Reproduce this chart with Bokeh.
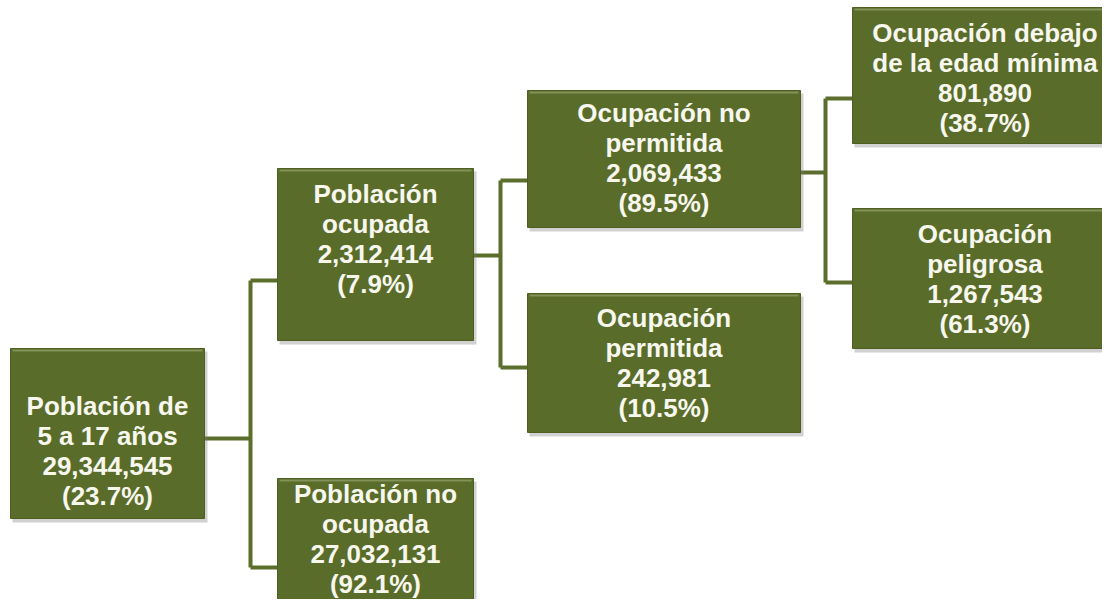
from bokeh.plotting import figure
from bokeh.models import ColumnDataSource, Range1d
from bokeh.core.properties import value
from bokeh.embed import file_html
from bokeh.resources import INLINE

# ---- data ----
labels = ["Población de\n5 a 17 años", "Población\nocupada", "Población no\nocupada",
          "Ocupación no\npermitida", "Ocupación\npermitida",
          "Ocupación debajo\nde la edad mínima", "Ocupación\npeligrosa"]
counts = [29344545, 2312414, 27032131, 2069433, 242981, 801890, 1267543]
percents = [23.7, 7.9, 92.1, 89.5, 10.5, 38.7, 61.3]
parents = [None, 0, 0, 1, 1, 3, 3]

# ---- layout (page geometry, pixels) ----
box_left = [10, 277, 277, 527, 527, 852, 852]
box_right = [204, 473, 473, 800, 800, 1117, 1117]
box_top = [348, 168, 478, 90, 293, 7, 208]
box_bottom = [518, 340, 632, 227, 432, 143, 348]
text_y = [450, 238, 538, 157, 362, 77, 278]
out_y = {0: 438, 1: 255, 3: 172}
in_y = [None, 280, 567, 180, 367, 98, 282]
trunk_x = {0: 250, 1: 500, 3: 825}

BOX = "#5a6c2a"
LINE = "#5b6e2c"
TXT = "#f7f7ee"

p = figure(width=1102, height=599, x_range=Range1d(0, 1102), y_range=Range1d(599, 0),
           output_backend="svg", toolbar_location=None, min_border=0)
p.axis.visible = False
p.grid.visible = False
p.outline_line_color = None
p.background_fill_color = "white"

# connectors
xs, ys = [], []
for par, tx in trunk_x.items():
    kids = [i for i, q in enumerate(parents) if q == par]
    xs.append([box_right[par], tx]); ys.append([out_y[par], out_y[par]])
    kys = [in_y[k] for k in kids]
    xs.append([tx, tx]); ys.append([min(kys), max(kys)])
    for k in kids:
        xs.append([tx, box_left[k]]); ys.append([in_y[k], in_y[k]])
p.multi_line(xs, ys, line_color=LINE, line_width=4)

src = ColumnDataSource(dict(
    left=box_left, right=box_right, top=box_top, bottom=box_bottom,
    sl=[v + 2 for v in box_left], sr=[v + 3 for v in box_right],
    st=[v + 3 for v in box_top], sb=[v + 4 for v in box_bottom],
    cx=[(a + b) / 2 for a, b in zip(box_left, box_right)], ty=text_y,
    hl_x0=[v + 2 for v in box_left], hl_x1=[v - 2 for v in box_right],
    hl_y=[v + 2 for v in box_top],
    txt=[f"{l}\n{c:,}\n({pc}%)" for l, c, pc in zip(labels, counts, percents)],
))

# shadow
p.quad(left="sl", right="sr", top="st", bottom="sb", source=src,
       fill_color="#7a7a7a", fill_alpha=0.35, line_color=None)
# boxes
p.quad(left="left", right="right", top="top", bottom="bottom", source=src,
       fill_color=BOX, line_color="#4e5e22", line_width=1)
# top highlight
p.segment(x0="hl_x0", x1="hl_x1", y0="hl_y", y1="hl_y", source=src,
          line_color="#8d9c62", line_width=2, line_alpha=0.8)

p.text(x="cx", y="ty", text="txt", source=src, text_font=value("Liberation Sans"),
       text_font_style="bold", text_font_size="26px", text_align="center",
       text_baseline="middle", text_line_height=1.0, text_color=TXT)

open("out.html", "w").write(file_html(p, INLINE))
